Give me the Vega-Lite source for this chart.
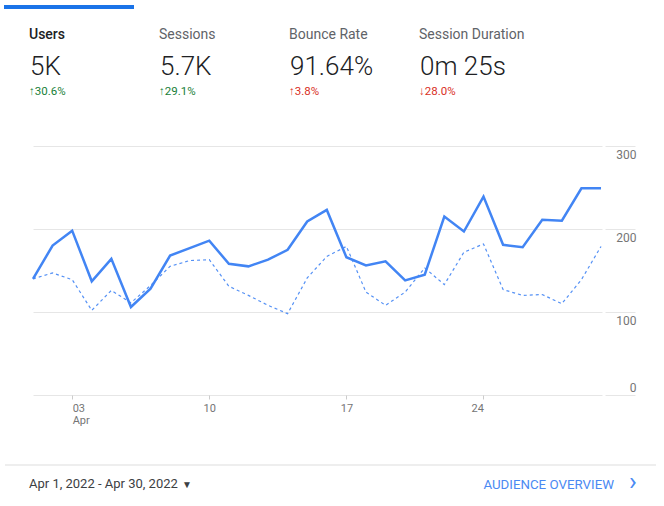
{
  "$schema": "https://vega.github.io/schema/vega-lite/v6.json",
  "background": "white",
  "padding": {"left": 4, "top": 5, "right": 5, "bottom": 3},
  "bounds": "flush",
  "spacing": 70,
  "config": {"font": "Roboto", "view": {"stroke": null}},
  "vconcat": [
    {
      "width": 520,
      "height": 71,
      "data": {"values": [
        {"metric": "Users", "value": "5K", "change": "↑30.6%", "trend": "good", "selected": true},
        {"metric": "Sessions", "value": "5.7K", "change": "↑29.1%", "trend": "good", "selected": false},
        {"metric": "Bounce Rate", "value": "91.64%", "change": "↑3.8%", "trend": "bad", "selected": false},
        {"metric": "Session Duration", "value": "0m 25s", "change": "↓28.0%", "trend": "bad", "selected": false}
      ]},
      "layer": [
        {
          "transform": [{"filter": "datum.selected"}],
          "mark": {"type": "tick", "orient": "horizontal", "size": 130, "thickness": 4, "color": "#1a73e8", "opacity": 1, "xOffset": -29, "yOffset": 2},
          "encoding": {
            "x": {"field": "metric", "type": "nominal", "bandPosition": 0.5, "scale": {"type": "band", "domain": ["Users", "Sessions", "Bounce Rate", "Session Duration"], "paddingInner": 0, "paddingOuter": 0}, "axis": null},
            "y": {"datum": "bar", "type": "ordinal", "scale": {"type": "point", "domain": ["bar", "label", "value", "change"], "padding": 0}, "axis": null}
          }
        },
        {
          "transform": [{"filter": "datum.selected"}],
          "mark": {"type": "text", "align": "left", "baseline": "middle", "dx": -4, "dy": 6, "fontSize": 14, "fontWeight": 500, "color": "#202124"},
          "encoding": {
            "x": {"field": "metric", "type": "nominal", "bandPosition": 0},
            "y": {"datum": "label", "type": "ordinal"},
            "text": {"field": "metric"}
          }
        },
        {
          "transform": [{"filter": "!datum.selected"}],
          "mark": {"type": "text", "align": "left", "baseline": "middle", "dx": -4, "dy": 6, "fontSize": 14, "fontWeight": 400, "color": "#5f6368"},
          "encoding": {
            "x": {"field": "metric", "type": "nominal", "bandPosition": 0},
            "y": {"datum": "label", "type": "ordinal"},
            "text": {"field": "metric"}
          }
        },
        {
          "mark": {"type": "text", "align": "left", "baseline": "middle", "dx": -3, "dy": 15, "fontSize": 26, "fontWeight": 300, "color": "#202124"},
          "encoding": {
            "x": {"field": "metric", "type": "nominal", "bandPosition": 0},
            "y": {"datum": "value", "type": "ordinal"},
            "text": {"field": "value"}
          }
        },
        {
          "mark": {"type": "text", "align": "left", "baseline": "middle", "dx": -4, "dy": 16, "fontSize": 11.5},
          "encoding": {
            "x": {"field": "metric", "type": "nominal", "bandPosition": 0},
            "y": {"datum": "change", "type": "ordinal"},
            "text": {"field": "change"},
            "color": {"field": "trend", "type": "nominal", "scale": {"domain": ["good", "bad"], "range": ["#188038", "#d93025"]}, "legend": null}
          }
        }
      ]
    },
    {
      "width": 569,
      "height": 249,
      "data": {"values": [
        {"day": 1, "current": 140, "previous": 140},
        {"day": 2, "current": 180, "previous": 147},
        {"day": 3, "current": 198, "previous": 139},
        {"day": 4, "current": 137, "previous": 102},
        {"day": 5, "current": 164, "previous": 126},
        {"day": 6, "current": 106, "previous": 111},
        {"day": 7, "current": 128, "previous": 132},
        {"day": 8, "current": 168, "previous": 155},
        {"day": 9, "current": 177, "previous": 162},
        {"day": 10, "current": 186, "previous": 163},
        {"day": 11, "current": 158, "previous": 131},
        {"day": 12, "current": 155, "previous": 120},
        {"day": 13, "current": 163, "previous": 108},
        {"day": 14, "current": 175, "previous": 98},
        {"day": 15, "current": 209, "previous": 141},
        {"day": 16, "current": 223, "previous": 167},
        {"day": 17, "current": 166, "previous": 179},
        {"day": 18, "current": 156, "previous": 124},
        {"day": 19, "current": 161, "previous": 108},
        {"day": 20, "current": 138, "previous": 124},
        {"day": 21, "current": 145, "previous": 153},
        {"day": 22, "current": 215, "previous": 133},
        {"day": 23, "current": 197, "previous": 172},
        {"day": 24, "current": 239, "previous": 182},
        {"day": 25, "current": 181, "previous": 127},
        {"day": 26, "current": 178, "previous": 120},
        {"day": 27, "current": 211, "previous": 121},
        {"day": 28, "current": 210, "previous": 110},
        {"day": 29, "current": 249, "previous": 139},
        {"day": 30, "current": 249, "previous": 179}
      ]},
      "layer": [
        {
          "mark": {"type": "line", "color": "#4285f4", "strokeWidth": 1.2, "strokeDash": [3, 3], "opacity": 0.9},
          "encoding": {
            "x": {"field": "day", "type": "quantitative", "scale": {"domain": [1, 30.05], "nice": false, "zero": false},
              "axis": {"orient": "bottom", "values": [3, 10, 17, 24], "title": null, "domain": false, "grid": false, "ticks": true, "tickSize": 4, "tickColor": "#cccccc",
                "labelExpr": "datum.value == 3 ? ['03', 'Apr'] : datum.label",
                "labelAlign": {"condition": [{"test": "datum.value == 3", "value": "left"}, {"test": "datum.value == 24", "value": "right"}], "value": "center"},
                "labelBaseline": "top", "labelFontSize": 11, "labelColor": "#757575", "labelPadding": 3, "labelLineHeight": 12, "labelFlush": false, "labelOverlap": false}},
            "y": {"field": "previous", "type": "quantitative", "scale": {"domain": [0, 300], "nice": false},
              "axis": {"orient": "right", "values": [0, 100, 200, 300], "title": null, "domain": false, "grid": true, "gridColor": "#e6e6e6", "gridWidth": 1,
                "ticks": true, "tickSize": 30, "tickColor": "#e6e6e6", "offset": 3, "labelAlign": "right", "labelPadding": 1, "labelFontSize": 12, "labelColor": "#757575",
                "labelBaseline": "middle", "labelOffset": {"condition": {"test": "datum.value == 0", "value": -8}, "value": 8}}}
          }
        },
        {
          "mark": {"type": "line", "color": "#4285f4", "strokeWidth": 2.5},
          "encoding": {
            "x": {"field": "day", "type": "quantitative"},
            "y": {"field": "current", "type": "quantitative"}
          }
        }
      ]
    },
    {
      "width": 581,
      "height": 38,
      "data": {"values": [
        {"item": "Apr 1, 2022 - Apr 30, 2022", "kind": "range"},
        {"item": "AUDIENCE OVERVIEW", "kind": "link"}
      ]},
      "encoding": {
        "x": {"field": "kind", "type": "nominal", "scale": {"type": "point", "domain": ["range", "link"], "padding": 0}, "axis": null}
      },
      "layer": [
        {
          "transform": [{"filter": "datum.kind == 'range'"}],
          "mark": {"type": "rule", "color": "#dddddd", "strokeWidth": 1, "xOffset": -28, "x2Offset": 42},
          "encoding": {
            "x": {"datum": "range", "type": "nominal"},
            "x2": {"datum": "link"},
            "y": {"datum": 1, "type": "quantitative", "scale": {"domain": [0, 1]}, "axis": null}
          }
        },
        {
          "transform": [{"filter": "datum.kind == 'range'"}],
          "mark": {"type": "text", "align": "left", "baseline": "middle", "dx": -4, "fontSize": 13, "color": "#3c4043"},
          "encoding": {
            "text": {"field": "item"}
          }
        },
        {
          "transform": [{"filter": "datum.kind == 'range'"}],
          "mark": {"type": "text", "align": "center", "baseline": "middle", "dx": 154, "dy": 1, "fontSize": 10, "color": "#3c4043", "text": "▼"}
        },
        {
          "transform": [{"filter": "datum.kind == 'link'"}],
          "mark": {"type": "text", "align": "right", "baseline": "middle", "dy": 1, "fontSize": 13.3, "color": "#4a89f3"},
          "encoding": {
            "text": {"field": "item"}
          }
        },
        {
          "transform": [{"filter": "datum.kind == 'link'"}],
          "mark": {"type": "text", "align": "center", "baseline": "middle", "dx": 19, "dy": -2, "fontSize": 26, "color": "#4a89f3", "text": "›"}
        }
      ]
    }
  ]
}
